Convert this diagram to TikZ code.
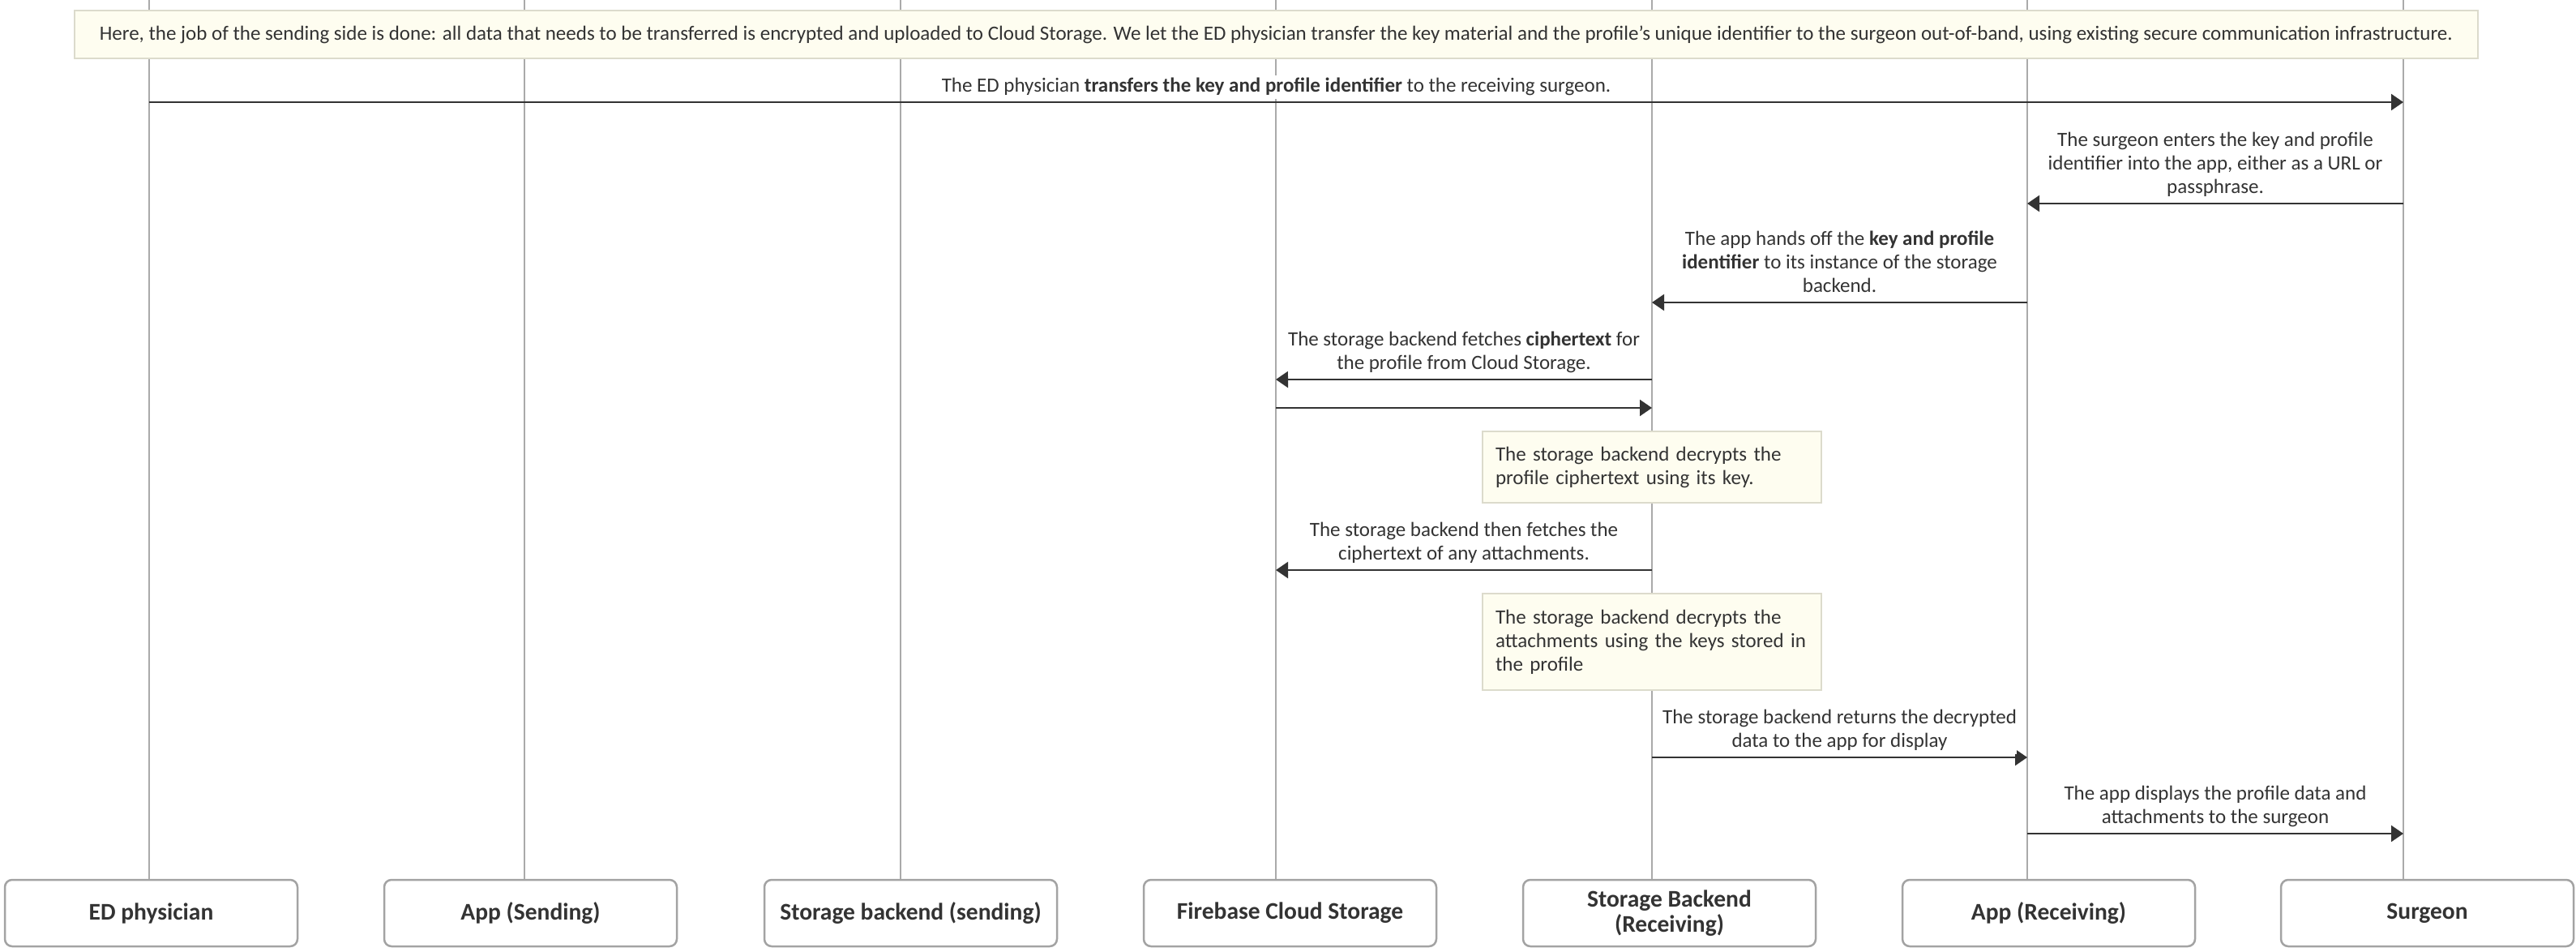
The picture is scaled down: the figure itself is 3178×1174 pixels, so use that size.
\documentclass[tikz,border=0pt]{standalone}
\usepackage{fontspec}
\setmainfont{Carlito}
\usetikzlibrary{arrows.meta}
\definecolor{ink}{HTML}{333333}
\definecolor{lifegray}{HTML}{AAAAAA}
\definecolor{boxgray}{HTML}{A3A3A3}
\definecolor{notefill}{HTML}{FEFDF0}
\definecolor{noteline}{HTML}{DCDBCC}
\tikzset{
  actor/.style={draw=boxgray, line width=2.5pt, rounded corners=9pt, fill=white, minimum width=361pt, minimum height=82pt, align=center, text=ink, font=\fontsize{29.5}{31.5}\selectfont\bfseries},
  life/.style={draw=lifegray, line width=2pt},
  msg/.style={draw=ink, line width=2.2pt, -{Triangle[length=15pt,width=20pt]}},
  lbl/.style={align=center, text=ink, fill=white, inner sep=0pt, anchor=south, yshift=2.5pt, font=\fontsize{25}{29}\selectfont, execute at end node=\strut},
  note/.style={draw=noteline, line width=1.5pt, fill=notefill, text=ink, inner xsep=16pt, font=\fontsize{25}{29}\selectfont}
}
\begin{document}
\begin{tikzpicture}[x=1pt,y=-1pt]
  \useasboundingbox (0,0) rectangle (3178,1174);
  \coordinate (lED) at (184,0);
  \coordinate (lAS) at (647,0);
  \coordinate (lSS) at (1111,0);
  \coordinate (lFC) at (1574,0);
  \coordinate (lSR) at (2038,0);
  \coordinate (lAR) at (2501,0);
  \coordinate (lSU) at (2965,0);
  \node [actor] (ed) at (186.5,1126) {ED physician};
  \node [actor] (as) at (654.5,1126) {App (Sending)};
  \node [actor] (ss) at (1123.5,1126) {Storage backend (sending)};
  \node [actor] (fc) at (1591.5,1126) {Firebase Cloud Storage};
  \node [actor] (sr) at (2059.5,1126) {Storage Backend\\(Receiving)};
  \node [actor] (ar) at (2527.5,1126) {App (Receiving)};
  \node [actor] (su) at (2994.5,1126) {Surgeon};
  \draw [life] (lED) -- (lED |- ed.north);
  \draw [life] (lAS) -- (lAS |- as.north);
  \draw [life] (lSS) -- (lSS |- ss.north);
  \draw [life] (lFC) -- (lFC |- fc.north);
  \draw [life] (lSR) -- (lSR |- sr.north);
  \draw [life] (lAR) -- (lAR |- ar.north);
  \draw [life] (lSU) -- (lSU |- su.north);
  \draw node[note, minimum width=2965pt, minimum height=59pt] (intro) at (1574.5,42.5) {Here, the job of the sending side is done: all data that needs to be transferred is encrypted and uploaded to Cloud Storage. We let the ED physician transfer the key material and the profile's unique identifier to the surgeon out-of-band, using existing secure communication infrastructure.};
  \coordinate (r1) at (0,126);
  \coordinate (r2) at (0,251);
  \coordinate (r3) at (0,373);
  \coordinate (r4) at (0,468);
  \coordinate (r5) at (0,503);
  \coordinate (r6) at (0,703);
  \coordinate (r7) at (0,934);
  \coordinate (r8) at (0,1028);
  \draw [msg] (lED |- r1) -- (lSU |- r1) node[lbl, midway] {The ED physician \textbf{transfers the key and profile identifier} to the receiving surgeon.};
  \draw [msg] (lSU |- r2) -- (lAR |- r2) node[lbl, midway] {The surgeon enters the key and profile\\identifier into the app, either as a URL or\\passphrase.};
  \draw [msg] (lAR |- r3) -- (lSR |- r3) node[lbl, midway] {The app hands off the \textbf{key and profile}\\\textbf{identifier} to its instance of the storage\\backend.};
  \draw [msg] (lSR |- r4) -- (lFC |- r4) node[lbl, midway] {The storage backend fetches \textbf{ciphertext} for\\the profile from Cloud Storage.};
  \draw [msg] (lFC |- r5) -- (lSR |- r5);
  \draw node[note, text width=386pt, align=left, minimum height=88pt] (dec1) at (2038,576) {The storage backend decrypts the\\profile ciphertext using its key.};
  \draw [msg] (lSR |- r6) -- (lFC |- r6) node[lbl, midway] {The storage backend then fetches the\\ciphertext of any attachments.};
  \draw node[note, text width=386pt, align=left, minimum height=119pt] (dec2) at (2038,791.5) {The storage backend decrypts the\\attachments using the keys stored in\\the profile};
  \draw [msg] (lSR |- r7) -- (lAR |- r7) node[lbl, midway] {The storage backend returns the decrypted\\data to the app for display};
  \draw [msg] (lAR |- r8) -- (lSU |- r8) node[lbl, midway] {The app displays the profile data and\\attachments to the surgeon};
\end{tikzpicture}
\end{document}
